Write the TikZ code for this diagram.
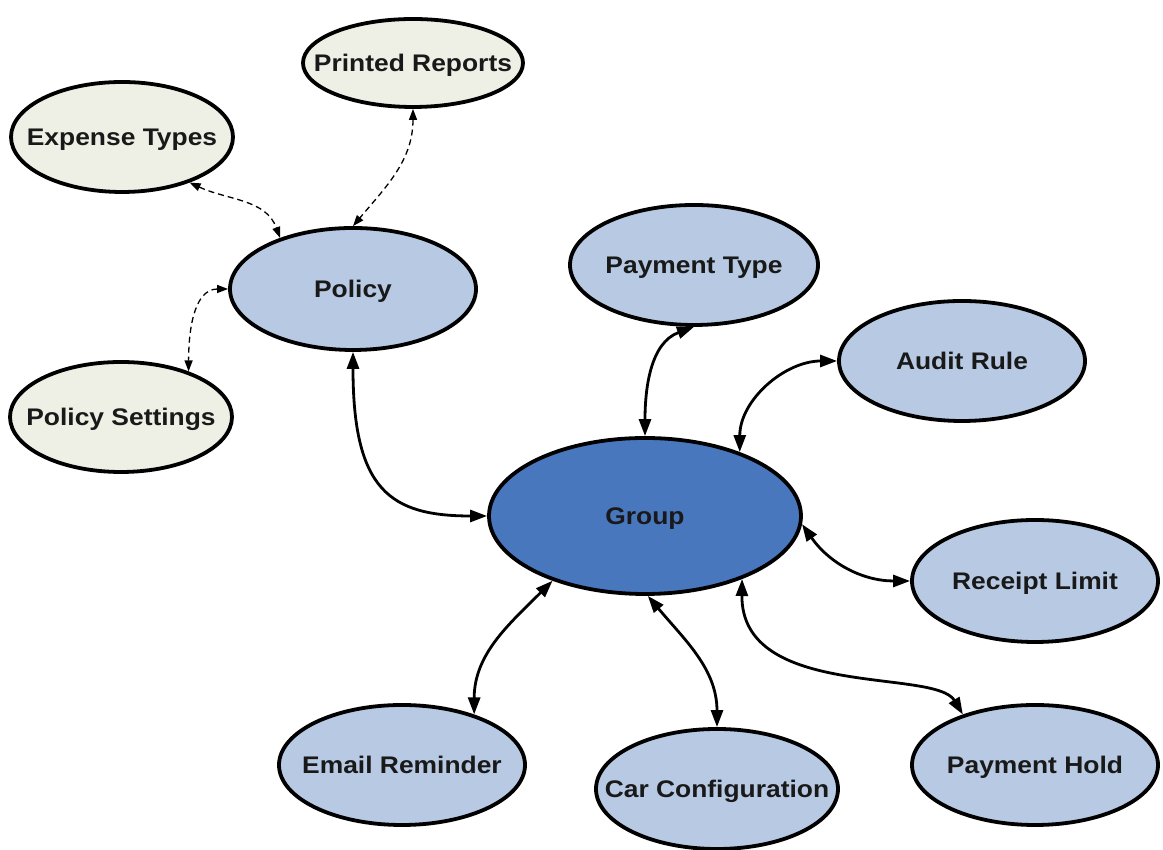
\documentclass[tikz,border=0pt]{standalone}
\usepackage{fontspec}
\setmainfont{Liberation Sans}
\usetikzlibrary{shapes.geometric,arrows.meta}
\definecolor{lightblue}{RGB}{183,201,227}
\definecolor{groupblue}{RGB}{72,119,190}
\definecolor{beige}{RGB}{238,240,230}
\definecolor{txt}{RGB}{25,25,25}
\newcommand{\lbl}[1]{\makebox[0pt]{\smash{\raisebox{-8.6pt}{\scalebox{1.1}[1]{#1}}}}}
\tikzset{
  ell/.style={ellipse, draw=black, line width=3.8pt, inner sep=0pt,
    font=\fontsize{24}{28}\selectfont\bfseries, text=txt},
  bluenode/.style={ell, fill=lightblue},
  beigenode/.style={ell, fill=beige},
  groupnode/.style={ell, fill=groupblue},
  link/.style={line width=2.8pt, {Triangle[length=17pt,width=12pt]}-{Triangle[length=17pt,width=12pt]}},
  dlink/.style={line width=1.3pt, dash pattern=on 6pt off 4pt,
    {Triangle[length=11pt,width=8pt]}-{Triangle[length=11pt,width=8pt]}},
}
\begin{document}
\begin{tikzpicture}[x=1pt,y=1pt]
\useasboundingbox (0,0) rectangle (1163,850);

\node[beigenode, minimum width=220pt, minimum height=88pt] (PR) at (413,787) {\lbl{Printed Reports}};
\node[beigenode, minimum width=222pt, minimum height=110pt] (ET) at (122,713) {\lbl{Expense Types}};
\node[bluenode, minimum width=246pt, minimum height=122pt] (Policy) at (353,561) {\lbl{Policy}};
\node[beigenode, minimum width=222pt, minimum height=110pt] (PS) at (121,433) {\lbl{Policy Settings}};
\node[bluenode, minimum width=248pt, minimum height=120pt] (PT) at (694,585) {\lbl{Payment Type}};
\node[bluenode, minimum width=246pt, minimum height=120pt] (AR) at (962,489) {\lbl{Audit Rule}};
\node[groupnode, minimum width=312pt, minimum height=156pt] (Group) at (645,334) {\lbl{Group}};
\node[bluenode, minimum width=246pt, minimum height=122pt] (RL) at (1035,269) {\lbl{Receipt Limit}};
\node[bluenode, minimum width=246pt, minimum height=120pt] (ER) at (402,85) {\lbl{Email Reminder}};
\node[bluenode, minimum width=242pt, minimum height=120pt] (CC) at (717,61) {\lbl{Car Configuration}};
\node[bluenode, minimum width=246pt, minimum height=120pt] (PH) at (1035,85) {\lbl{Payment Hold}};

% dashed connectors
\draw[dlink] (ET.-34) to[out=-25,in=110] (Policy.145);
\draw[dlink] (PR.south) to[out=-90,in=50] (Policy.north);
\draw[dlink] (Policy.west) to[out=180,in=90] (PS.34);

% solid connectors
\draw[link] (Policy.south) .. controls (353,360) and (390,334) .. (Group.west);
\draw[link] (Group.north) to[out=90,in=200] (PT.south);
\draw[link] (Group.34) to[out=90,in=180] (AR.west);
\draw[link] (Group.-3) to[out=-55,in=180] (RL.west);
\draw[link] (Group.-33) .. controls (741,150) and (935,182) .. (PH.145);
\draw[link] (ER.35) to[out=90,in=225] (Group.215);
\draw[link] (Group.-88) to[out=-50,in=90] (CC.north);
\end{tikzpicture}
\end{document}
